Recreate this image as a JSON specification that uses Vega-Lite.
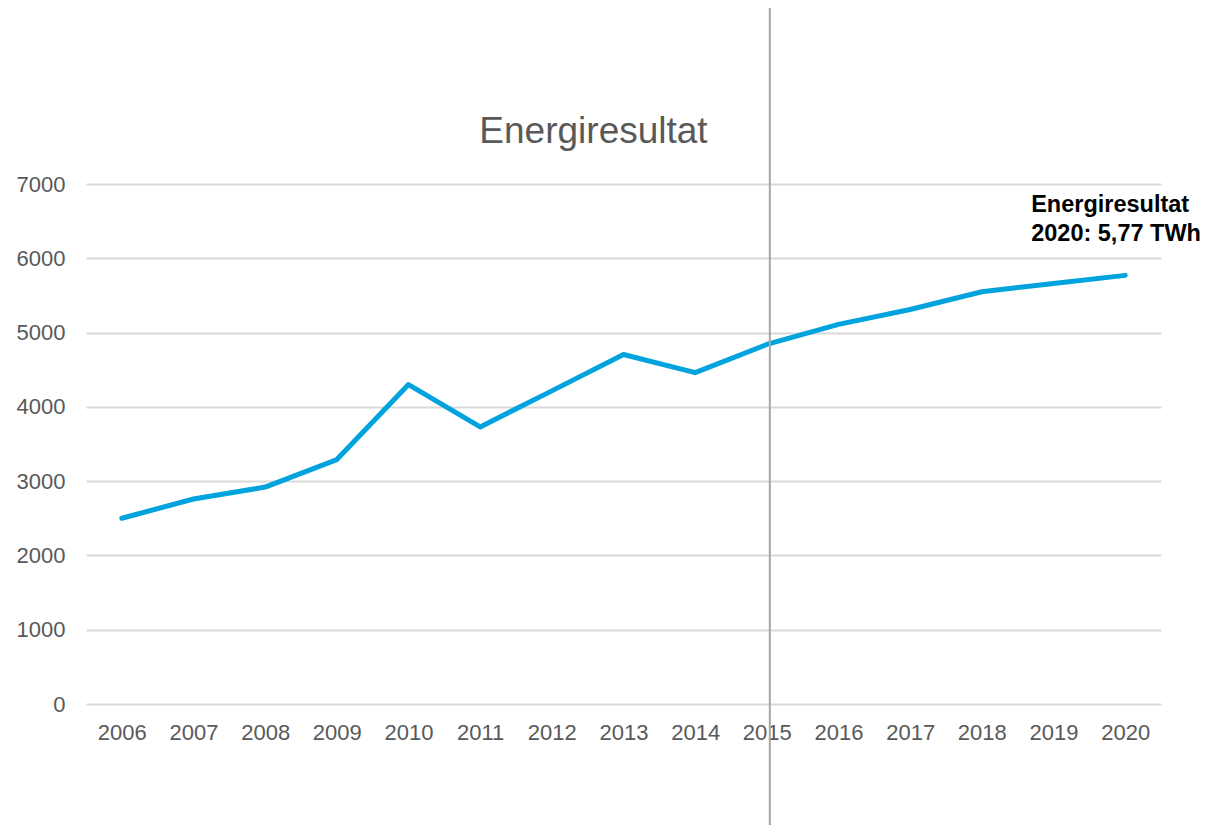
{
  "$schema": "https://vega.github.io/schema/vega-lite/v6.json",
  "autosize": {"type": "none"},
  "width": 1075,
  "height": 520,
  "padding": {"left": 86, "top": 184, "right": 49, "bottom": 121},
  "background": "white",
  "config": {
    "view": {"stroke": null},
    "font": "Liberation Sans"
  },
  "title": {
    "text": "Energiresultat",
    "font": "Liberation Sans",
    "fontSize": 37,
    "fontWeight": "normal",
    "color": "#595959",
    "anchor": "middle",
    "frame": "group",
    "baseline": "alphabetic",
    "offset": -173,
    "dx": -30
  },
  "datasets": {
    "series": [
      {"year": "2006", "value": 2500},
      {"year": "2007", "value": 2760},
      {"year": "2008", "value": 2920},
      {"year": "2009", "value": 3290},
      {"year": "2010", "value": 4300},
      {"year": "2011", "value": 3730},
      {"year": "2012", "value": 4215},
      {"year": "2013", "value": 4705},
      {"year": "2014", "value": 4460},
      {"year": "2015", "value": 4840},
      {"year": "2016", "value": 5110},
      {"year": "2017", "value": 5310},
      {"year": "2018", "value": 5550},
      {"year": "2019", "value": 5660},
      {"year": "2020", "value": 5770}
    ],
    "marker": [{"year": "2015", "top": 9370, "bottom": -1630}],
    "note": [{"year": "2020", "value": 5770, "label": ["Energiresultat", "2020: 5,77 TWh"]}]
  },
  "encoding": {
    "x": {
      "field": "year",
      "type": "ordinal",
      "scale": {"type": "point", "padding": 0.5},
      "axis": {
        "title": null,
        "labelAngle": 0,
        "domain": false,
        "ticks": false,
        "grid": false,
        "labelFont": "Liberation Sans",
        "labelFontSize": 22,
        "labelColor": "#595959",
        "labelPadding": 18
      }
    }
  },
  "layer": [
    {
      "data": {"name": "series"},
      "mark": {"type": "line", "color": "#00A3DD", "strokeWidth": 5, "strokeCap": "round", "strokeJoin": "round"},
      "encoding": {
        "y": {
          "field": "value",
          "type": "quantitative",
          "scale": {"domain": [0, 7000], "nice": false},
          "axis": {
            "title": null,
            "values": [0, 1000, 2000, 3000, 4000, 5000, 6000, 7000],
            "format": "d",
            "domain": false,
            "ticks": false,
            "grid": true,
            "gridColor": "#d9d9d9",
            "gridWidth": 2,
            "labelFont": "Liberation Sans",
            "labelFontSize": 22,
            "labelColor": "#595959",
            "labelPadding": 21
          }
        }
      }
    },
    {
      "data": {"name": "marker"},
      "mark": {"type": "rule", "color": "#a6a6a6", "strokeWidth": 2, "clip": false, "xOffset": 3},
      "encoding": {
        "y": {"field": "top", "type": "quantitative"},
        "y2": {"field": "bottom"}
      }
    },
    {
      "data": {"name": "note"},
      "mark": {
        "type": "text",
        "align": "left",
        "baseline": "alphabetic",
        "dx": -94,
        "dy": -63,
        "font": "Liberation Sans",
        "fontSize": 23.5,
        "fontWeight": "bold",
        "color": "#000000",
        "lineHeight": 29
      },
      "encoding": {
        "y": {"field": "value", "type": "quantitative"},
        "text": {"field": "label"}
      }
    }
  ]
}
